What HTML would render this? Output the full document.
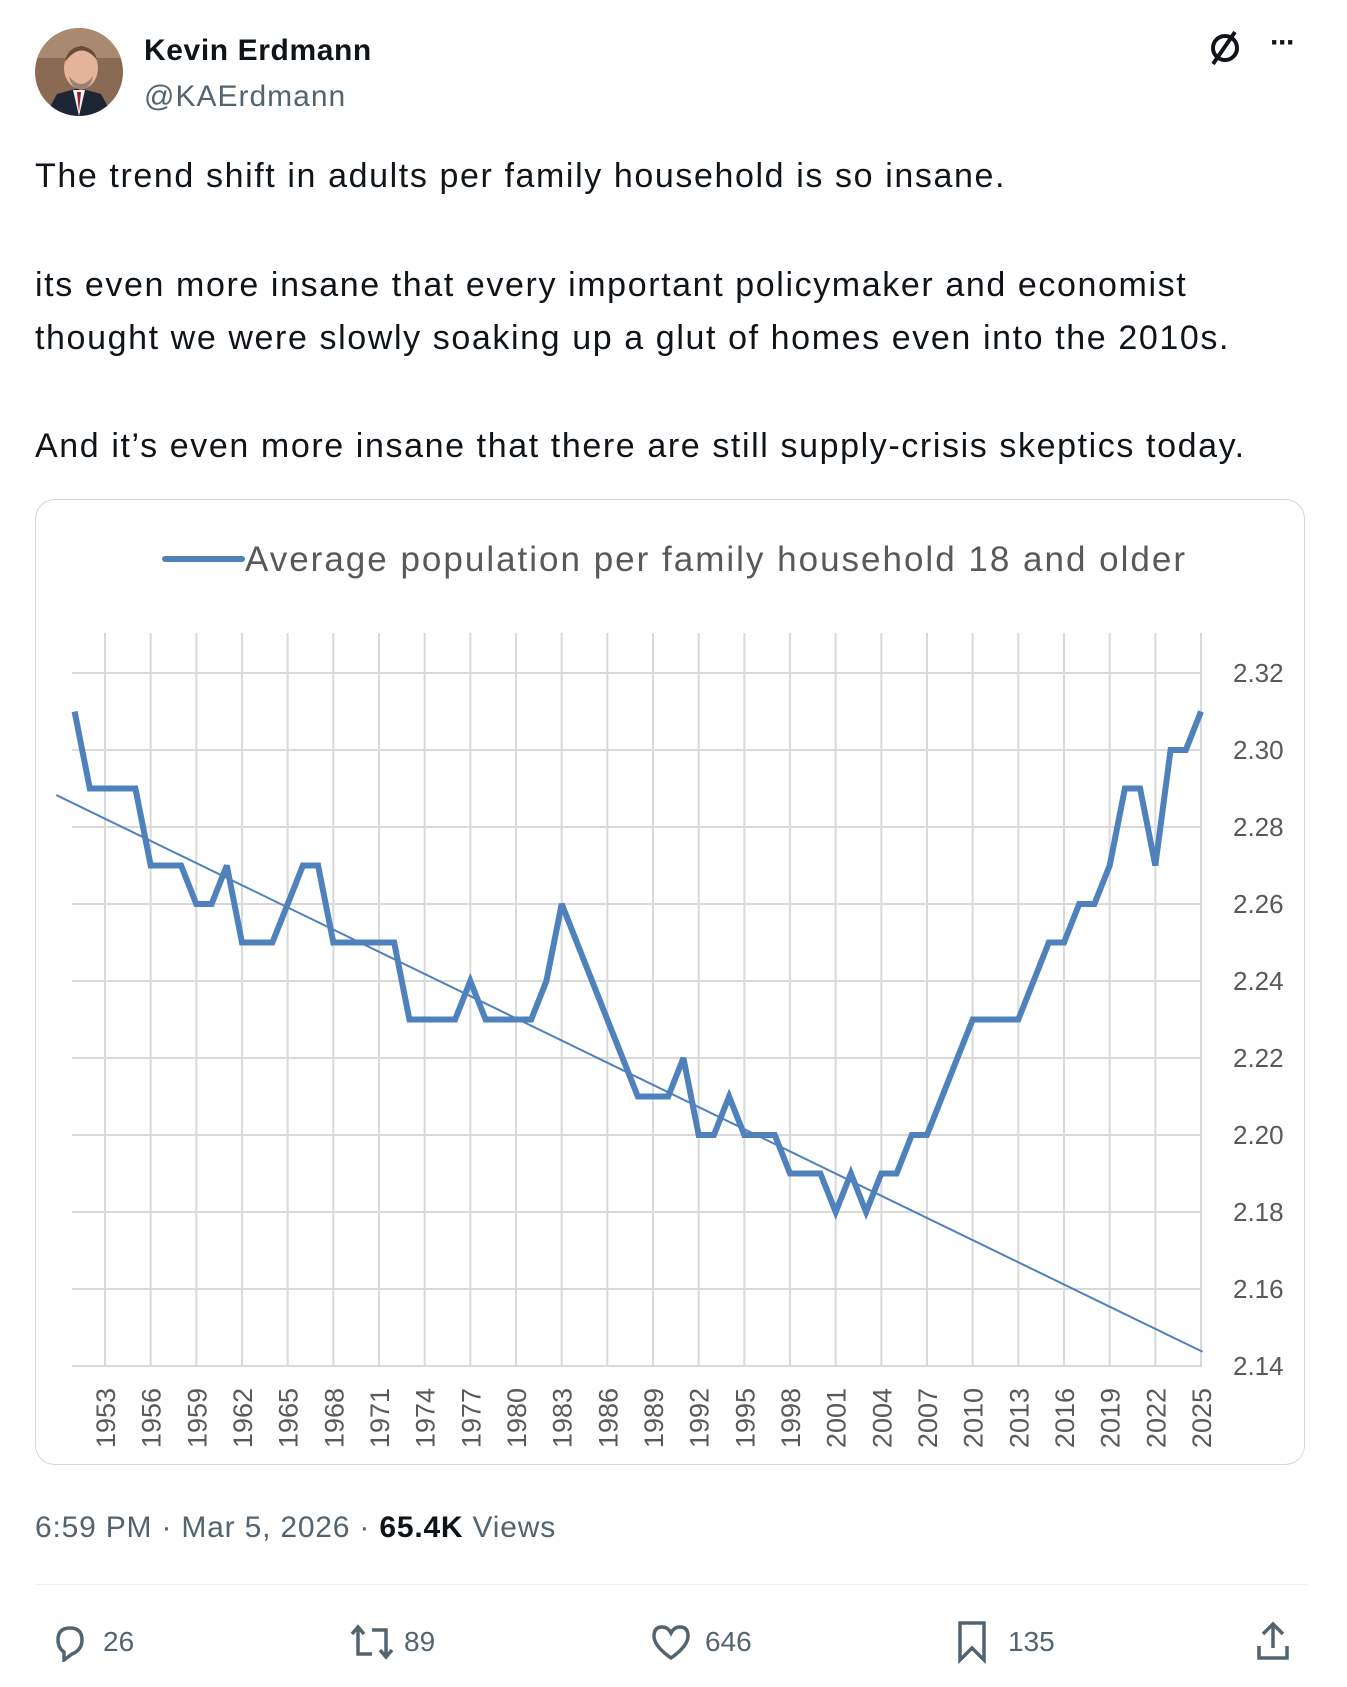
<!DOCTYPE html>
<html><head><meta charset="utf-8">
<style>
html,body{margin:0;padding:0;background:#fff;}
body{width:1347px;height:1687px;position:relative;overflow:hidden;font-family:"Liberation Sans","DejaVu Sans",sans-serif;}
.abs{position:absolute;white-space:nowrap;}
.tw{font-size:34px;letter-spacing:1.6px;color:#0f1419;line-height:1;left:35px;}
</style></head>
<body>
<svg class="abs" style="left:35px;top:28px" width="88" height="88" viewBox="0 0 88 88">
  <defs><clipPath id="av"><circle cx="44" cy="44" r="44"/></clipPath></defs>
  <g clip-path="url(#av)">
    <rect width="88" height="88" fill="#8a6a52"/>
    <rect x="0" y="0" width="88" height="30" fill="#a98a70"/>
    <path d="M10 88 L22 66 L44 60 L66 66 L78 88Z" fill="#1d2433"/>
    <path d="M38 62 L44 88 L50 62Z" fill="#f2f2f2"/>
    <path d="M42 64 L44 84 L46 64Z" fill="#9b1c2c"/>
    <ellipse cx="46" cy="40" rx="17" ry="21" fill="#e3b49a"/>
    <path d="M30 34 Q46 12 62 32 Q60 20 46 18 Q32 20 30 34Z" fill="#6b4a38"/>
    <path d="M34 48 Q46 64 58 48 Q56 60 46 62 Q36 60 34 48Z" fill="#9a8070"/>
  </g>
</svg>
<div class="abs" style="left:144px;top:34px;font-size:30px;letter-spacing:0.6px;font-weight:bold;color:#0f1419;">Kevin Erdmann</div>
<div class="abs" style="left:144px;top:80px;font-size:30px;letter-spacing:1px;color:#536471;">@KAErdmann</div>
<svg class="abs" style="left:1205px;top:28px" width="40" height="40" viewBox="0 0 40 40">
  <circle cx="20" cy="20" r="12" fill="none" stroke="#0f1419" stroke-width="4"/>
  <path d="M30 4 L8 36" stroke="#0f1419" stroke-width="4"/>
</svg>
<div class="abs" style="left:1270px;top:26px;font-size:30px;color:#0f1419;font-weight:bold;letter-spacing:-2px;">···</div>

<div class="abs tw" style="top:159px;">The trend shift in adults per family household is so insane.</div>
<div class="abs tw" style="top:268px;">its even more insane that every important policymaker and economist</div>
<div class="abs tw" style="top:321px;">thought we were slowly soaking up a glut of homes even into the 2010s.</div>
<div class="abs tw" style="top:429px;">And it’s even more insane that there are still supply-crisis skeptics today.</div>

<div class="abs" style="left:35px;top:499px;width:1270px;height:966px;border:1.5px solid #cfd9de;border-radius:20px;box-sizing:border-box;"></div>

<svg id="chart" class="abs" style="left:0;top:0" width="1347" height="1687"></svg>

<div class="abs" style="left:35px;top:1511px;font-size:30px;letter-spacing:0.8px;color:#536471;">6:59 PM · Mar 5, 2026 · <b style="color:#0f1419">65.4K</b> Views</div>
<div class="abs" style="left:35px;top:1584px;width:1272px;height:1px;background:#eff3f4;"></div>

<svg class="abs" style="left:50px;top:1622px" width="40" height="40" viewBox="0 0 40 40"><path d="M8 18 Q8 6 20 6 Q32 6 32 18 Q32 28 22 32 L14 38 L14 30 Q8 26 8 18Z" fill="none" stroke="#536471" stroke-width="3.5"/></svg>
<div class="abs" style="left:103px;top:1626px;font-size:28px;color:#536471;">26</div>
<svg class="abs" style="left:348px;top:1622px" width="48" height="40" viewBox="0 0 48 40"><path d="M4 12 L10 5 L16 12 M10 6 V32 H24 M44 28 L38 35 L32 28 M38 34 V8 H24" fill="none" stroke="#536471" stroke-width="3.5"/></svg>
<div class="abs" style="left:404px;top:1626px;font-size:28px;color:#536471;">89</div>
<svg class="abs" style="left:650px;top:1622px" width="42" height="40" viewBox="0 0 42 40"><path d="M21 36 Q4 24 4 14 Q4 5 12 5 Q18 5 21 11 Q24 5 30 5 Q38 5 38 14 Q38 24 21 36Z" fill="none" stroke="#536471" stroke-width="3.5"/></svg>
<div class="abs" style="left:705px;top:1626px;font-size:28px;color:#536471;">646</div>
<svg class="abs" style="left:955px;top:1620px" width="34" height="44" viewBox="0 0 34 44"><path d="M5 3 H29 V40 L17 28 L5 40Z" fill="none" stroke="#536471" stroke-width="3.5"/></svg>
<div class="abs" style="left:1008px;top:1626px;font-size:28px;color:#536471;">135</div>
<svg class="abs" style="left:1255px;top:1620px" width="36" height="44" viewBox="0 0 36 44"><path d="M18 4 V28 M8 14 L18 4 L28 14 M4 26 V38 H32 V26" fill="none" stroke="#536471" stroke-width="3.5"/></svg>

<script>
const years = [];
for (let y = 1951; y <= 2025; y++) years.push(y);
const values = [2.31,2.29,2.29,2.29,2.29,2.27,2.27,2.27,2.26,2.26,
  2.27,2.25,2.25,2.25,2.26,2.27,2.27,2.25,2.25,2.25,
  2.25,2.25,2.23,2.23,2.23,2.23,2.24,2.23,2.23,2.23,
  2.23,2.24,2.26,2.25,2.24,2.23,2.22,2.21,2.21,2.21,
  2.22,2.20,2.20,2.21,2.20,2.20,2.20,2.19,2.19,2.19,
  2.18,2.19,2.18,2.19,2.19,2.20,2.20,2.21,2.22,2.23,
  2.23,2.23,2.23,2.24,2.25,2.25,2.26,2.26,2.27,2.29,
  2.29,2.27,2.30,2.30,2.31];
const trendYears = [1949.8, 2025.1];
const trendValues = [2.2883, 2.1437];
const yTicks = [2.14,2.16,2.18,2.20,2.22,2.24,2.26,2.28,2.30,2.32];
const xTickYears = [];
for (let y = 1953; y <= 2025; y += 3) xTickYears.push(y);

const NS = "http://www.w3.org/2000/svg";
const svg = document.getElementById('chart');
const X = yr => 105 + (yr - 1953) * (1201 - 105) / 72;
const Y = v => 673 + (2.32 - v) * (1366 - 673) / 0.18;
function mk(tag, attrs, parent) {
  const e = document.createElementNS(NS, tag);
  for (const k in attrs) e.setAttribute(k, attrs[k]);
  (parent || svg).appendChild(e);
  return e;
}
const lg = mk('line', {x1:165, y1:559, x2:242, y2:559, stroke:'#4f81bd', 'stroke-width':6, 'stroke-linecap':'round'});


const lt = mk('text', {x:245, y:571, 'font-size':35, 'letter-spacing':2, fill:'#595959', 'font-family':'Liberation Sans, sans-serif'});
lt.textContent = 'Average population per family household 18 and older';


yTicks.forEach(v => {
  const g = mk('line', {x1:72, y1:Y(v), x2:1202, y2:Y(v), stroke:'#d9d9d9', 'stroke-width':2});
  
  
  const t = mk('text', {x:1233, y:Y(v)+9, 'font-size':26, fill:'#595959', 'font-family':'Liberation Sans, sans-serif'});
  t.textContent = v.toFixed(2);
  
  
});
xTickYears.forEach(yr => {
  const g = mk('line', {x1:X(yr), y1:633, x2:X(yr), y2:Y(2.14), stroke:'#d9d9d9', 'stroke-width':2});
  
  
  const t = mk('text', {x:0, y:0, 'font-size':27, fill:'#595959', 'font-family':'Liberation Sans, sans-serif', 'text-anchor':'end',
    transform:`translate(${X(yr)+10},1388) rotate(-90)`});
  t.textContent = yr;
  
  
});
const tr = mk('line', {x1:X(trendYears[0]), y1:Y(trendValues[0]), x2:X(trendYears[1]), y2:Y(trendValues[1]), stroke:'#4f81bd', 'stroke-width':2});


const pts = years.map((yr, i) => X(yr).toFixed(1) + ',' + Y(values[i]).toFixed(1)).join(' ');
const pl = mk('polyline', {points:pts, fill:'none', stroke:'#4f81bd', 'stroke-width':6, 'stroke-linejoin':'miter', 'stroke-miterlimit':3});


</script>
</body></html>
